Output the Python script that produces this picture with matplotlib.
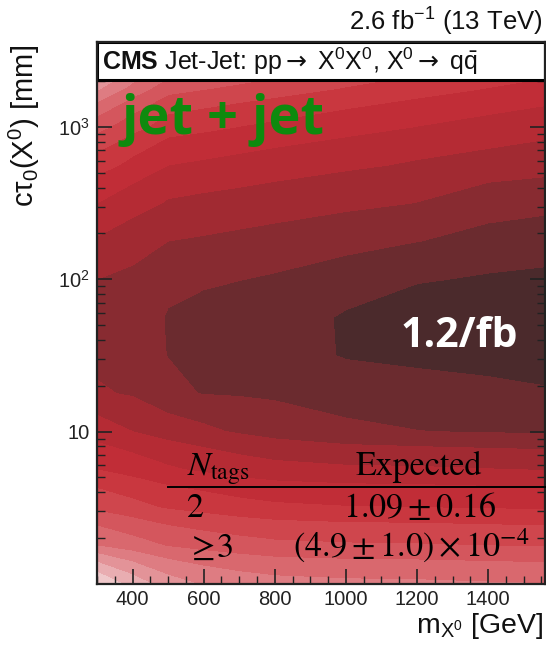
import numpy as np
import matplotlib
matplotlib.use("Agg")
import matplotlib.pyplot as plt
from matplotlib.patches import Rectangle
from matplotlib.lines import Line2D
from matplotlib.ticker import MultipleLocator, LogLocator, NullFormatter, FixedLocator

plt.rcParams['font.family'] = ['Liberation Sans', 'DejaVu Sans']
plt.rcParams['mathtext.fontset'] = 'custom'
plt.rcParams['mathtext.rm'] = 'Liberation Sans'
plt.rcParams['mathtext.it'] = 'Liberation Sans'
plt.rcParams['mathtext.bf'] = 'Liberation Sans:bold'
plt.rcParams['mathtext.sf'] = 'DejaVu Sans'

# Expected cross-section limit (fb) on a grid of X0 mass and proper decay length
mass_gev = [300, 400, 500, 600, 700, 800, 1000, 1200, 1400, 1600]
ctau_mm = [1.0, 1.78, 3.16, 5.62, 10.0, 17.8, 31.6, 56.2, 100.0, 178.0,
           316.0, 562.0, 1000.0, 1780.0, 3160.0, 5620.0]
limit_fb = [
    [8.00, 7.30, 6.73, 6.45, 6.28, 6.18, 6.11, 6.09, 6.04, 6.00],
    [6.00, 5.72, 5.47, 5.32, 5.21, 5.12, 5.06, 5.04, 5.00, 4.96],
    [4.89, 4.66, 4.45, 4.32, 4.19, 4.10, 4.03, 4.01, 3.97, 3.93],
    [4.00, 3.79, 3.57, 3.42, 3.27, 3.17, 3.09, 3.07, 3.02, 2.97],
    [3.24, 3.00, 2.77, 2.60, 2.44, 2.29, 2.10, 2.01, 1.96, 1.92],
    [2.57, 2.44, 2.10, 1.98, 1.95, 1.91, 1.76, 1.66, 1.59, 1.52],
    [2.33, 2.18, 1.99, 1.89, 1.83, 1.74, 1.46, 1.39, 1.35, 1.33],
    [2.30, 2.15, 1.98, 1.88, 1.81, 1.73, 1.45, 1.27, 1.22, 1.20],
    [2.50, 2.40, 2.08, 2.06, 2.01, 1.95, 1.77, 1.54, 1.45, 1.40],
    [2.95, 2.73, 2.50, 2.45, 2.39, 2.33, 2.18, 2.01, 1.85, 1.73],
    [3.50, 3.22, 2.95, 2.88, 2.82, 2.75, 2.62, 2.49, 2.22, 2.13],
    [4.24, 3.85, 3.50, 3.42, 3.34, 3.25, 3.09, 2.94, 2.81, 2.68],
    [5.18, 4.68, 4.24, 4.12, 3.99, 3.89, 3.69, 3.49, 3.33, 3.16],
    [6.57, 5.81, 5.18, 5.02, 4.88, 4.74, 4.46, 4.22, 3.98, 3.78],
    [8.13, 7.35, 6.57, 6.34, 6.11, 5.90, 5.49, 5.16, 4.86, 4.58],
    [9.70, 8.90, 8.13, 7.90, 7.67, 7.45, 7.00, 6.53, 6.08, 5.65],
]
levels_fb = [1.0, 1.5, 2.0, 2.5, 3.0, 3.5, 4.0, 4.5, 5.0, 5.5, 6.0, 6.5,
             7.0, 7.5, 8.0, 8.5, 9.0, 9.5, 10.0, 10.5]
band_colors = ["#4b2a2c", "#6b2b2f", "#882b31", "#a12a32", "#b52b34",
               "#c12d37", "#c9373f", "#cf464d", "#d4565d", "#d9686e",
               "#de7c82", "#e39398", "#e9adb1", "#efc8ca", "#f5e1e3",
               "#f8eced", "#f9f0f1", "#faf3f4", "#fbf6f6"]

x_ticks = [400, 600, 800, 1000, 1200, 1400]
y_ticks = [10, 100, 1000]
y_tick_labels = ["10", "$10^{2}$", "$10^{3}$"]

table_header = [r"$N_{\mathrm{tags}}$", "Expected"]
table_rows = [("2", r"$1.09 \pm 0.16$"),
              (r"$\geq\!3$", r"$(4.9 \pm 1.0)\times 10^{-4}$")]

W, H = 546, 646
fig = plt.figure(figsize=(W / 100, H / 100), dpi=100)


def px(x, y):
    return x / W, 1 - y / H


ax = fig.add_axes([97 / W, 1 - 584 / H, 448 / W, 542 / H])
Z = np.array(limit_fb)
ax.contourf(mass_gev, ctau_mm, Z, levels=levels_fb, colors=band_colors,
            antialiased=False, zorder=1)
ax.set_yscale('log')
ax.set_xlim(300, 1560)
ax.set_ylim(1, 3606)

ax.xaxis.set_major_locator(FixedLocator(x_ticks))
ax.xaxis.set_minor_locator(MultipleLocator(50))
ax.yaxis.set_major_locator(FixedLocator(y_ticks))
ax.set_yticklabels(y_tick_labels)
ax.yaxis.set_minor_locator(LogLocator(base=10, subs=range(2, 10)))
ax.yaxis.set_minor_formatter(NullFormatter())
ax.tick_params(which='both', direction='in', right=True, top=False,
               colors='#222222', labelcolor='#222222', labelsize=14.5)
ax.tick_params(which='major', length=11, width=1.2)
ax.tick_params(which='minor', length=5.5, width=1.0)
ax.tick_params(axis='x', pad=4)
ax.tick_params(axis='y', pad=5)
for sp in ax.spines.values():
    sp.set_linewidth(1.6)
    sp.set_color('#222222')
    sp.set_zorder(6)

# title box at the top of the frame
ax.add_patch(Rectangle((0, 0.93), 1, 0.07, transform=ax.transAxes,
                       facecolor='white', edgecolor='black', lw=2.2,
                       zorder=5, clip_on=False))
ax.text(0.012, 0.965,
        r"$\mathbf{CMS}$ Jet-Jet: pp$\mathsf{\rightarrow}$ X$^{0}$X$^{0}$, X$^{0}$$\mathsf{\rightarrow}$ q$\bar{\mathrm{q}}$",
        transform=ax.transAxes, va='center', ha='left', fontsize=18,
        color='#111111', zorder=7)

fig.text(*px(543, 31), r"2.6 fb$^{-1}$ (13 TeV)", ha='right', va='baseline',
         fontsize=18.5, color='#111111')
fig.text(*px(24, 45), r"c$\tau_{0}$(X$^{0}$) [mm]", rotation=90,
         ha='center', va='top', fontsize=21, color='#111111')
fig.text(*px(543, 626), r"m$_{\mathrm{X}^{0}}$ [GeV]", ha='right',
         va='center', fontsize=20.5, color='#111111')

fig.text(*px(122, 134), "jet + jet", fontsize=39, fontweight='bold',
         family='Open Sans', color='#0e8a0e', ha='left', va='baseline')

best = Z.min()
fig.text(*px(401, 347), f"{best:.1f}/fb", fontsize=29.5, fontweight='bold',
         family='Open Sans', color='white', ha='left', va='baseline')

# yield table
serif = dict(family='STIXGeneral', math_fontfamily='stix', color='black',
             fontsize=24.5, va='baseline')
fig.text(*px(187, 475), table_header[0], ha='left', **serif)
fig.text(*px(419, 475), table_header[1], ha='center', **serif)
fig.add_artist(Line2D([168 / W, 1.0], [1 - 487 / H] * 2, color='black', lw=1.4))
fig.text(*px(187, 517), table_rows[0][0], ha='left', **serif)
fig.text(*px(419, 517), table_rows[0][1], ha='center', **serif)
fig.text(*px(187, 557), table_rows[1][0], ha='left', **serif)
fig.text(*px(293, 557), table_rows[1][1], ha='left', **serif)

fig.savefig("out.png", dpi=100)
